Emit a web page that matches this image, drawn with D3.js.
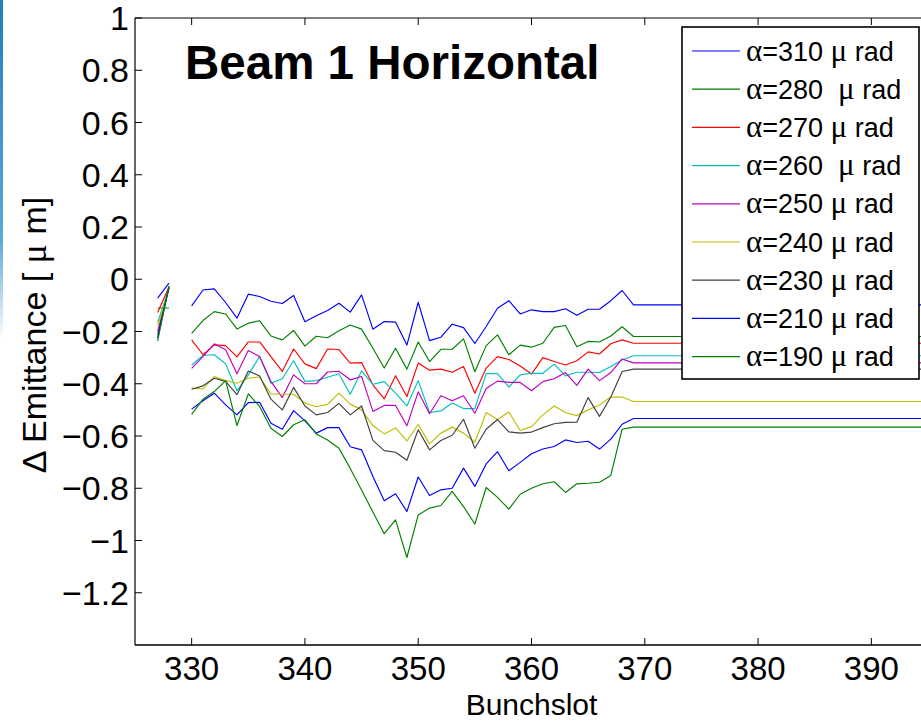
<!DOCTYPE html>
<html><head><meta charset="utf-8">
<script src="https://cdn.jsdelivr.net/npm/d3@7"></script>
<style>
html,body{margin:0;padding:0;background:#fff;}
svg{display:block;font-family:"Liberation Sans",Arial,Helvetica,sans-serif;}
</style>
</head><body>
<svg id="chart" width="921" height="721"></svg>
<script>
// ---------- DATA ----------
const bunchslots = [327,328,329,
  330,331,332,333,334,335,336,337,338,339,
  340,341,342,343,344,345,346,347,348,349,
  350,351,352,353,354,355,356,357,358,359,
  360,361,362,363,364,365,366,367,368,369,
  395];

const a310 = [-0.072,-0.015,null,
 -0.102,-0.041,-0.037,-0.089,-0.149,-0.057,-0.066,-0.084,-0.093,-0.062,
 -0.163,-0.140,-0.120,-0.092,-0.126,-0.060,-0.191,-0.162,-0.164,-0.252,
 -0.088,-0.235,-0.222,-0.172,-0.185,-0.246,-0.181,-0.111,-0.082,-0.133,
 -0.117,-0.124,-0.124,-0.113,-0.138,-0.115,-0.115,-0.082,-0.043,-0.098,
 -0.098];
const a280 = [-0.110,-0.110,null,
 -0.207,-0.158,-0.124,-0.133,-0.190,-0.168,-0.159,-0.217,-0.232,-0.196,
 -0.256,-0.218,-0.224,-0.197,-0.175,-0.191,-0.264,-0.340,-0.264,-0.344,
 -0.240,-0.315,-0.268,-0.268,-0.228,-0.354,-0.254,-0.213,-0.289,-0.252,
 -0.260,-0.245,-0.184,-0.177,-0.258,-0.238,-0.240,-0.217,-0.182,-0.219,
 -0.219];
const a270 = [-0.127,-0.030,null,
 -0.232,-0.289,-0.251,-0.254,-0.297,-0.240,-0.240,-0.296,-0.353,-0.267,
 -0.324,-0.342,-0.267,-0.269,-0.321,-0.319,-0.404,-0.458,-0.369,-0.449,
 -0.321,-0.348,-0.344,-0.356,-0.334,-0.436,-0.340,-0.296,-0.307,-0.332,
 -0.363,-0.300,-0.315,-0.328,-0.312,-0.278,-0.286,-0.247,-0.232,-0.245,
 -0.245];
const a260 = [-0.165,-0.035,null,
 -0.328,-0.292,-0.289,-0.324,-0.427,-0.366,-0.296,-0.398,-0.381,-0.312,
 -0.391,-0.388,-0.375,-0.362,-0.440,-0.351,-0.402,-0.392,-0.436,-0.485,
 -0.388,-0.510,-0.504,-0.474,-0.495,-0.495,-0.361,-0.361,-0.413,-0.366,
 -0.360,-0.360,-0.325,-0.370,-0.356,-0.356,-0.357,-0.334,-0.309,-0.293,
 -0.293];
const a250 = [-0.200,-0.035,null,
 -0.341,-0.296,-0.247,-0.270,-0.362,-0.273,-0.296,-0.391,-0.453,-0.366,
 -0.400,-0.400,-0.355,-0.352,-0.385,-0.372,-0.506,-0.483,-0.483,-0.561,
 -0.431,-0.515,-0.446,-0.465,-0.446,-0.513,-0.418,-0.390,-0.395,-0.395,
 -0.427,-0.392,-0.381,-0.357,-0.406,-0.344,-0.388,-0.357,-0.305,-0.320,
 -0.320];
const a240 = [-0.180,-0.035,null,
 -0.417,-0.420,-0.372,-0.388,-0.398,-0.379,-0.374,-0.439,-0.440,-0.440,
 -0.474,-0.488,-0.479,-0.436,-0.478,-0.500,-0.560,-0.592,-0.569,-0.619,
 -0.556,-0.630,-0.589,-0.566,-0.589,-0.624,-0.510,-0.537,-0.508,-0.579,
 -0.564,-0.519,-0.485,-0.510,-0.522,-0.500,-0.481,-0.451,-0.451,-0.468,
 -0.468];
const a230 = [-0.215,-0.030,null,
 -0.421,-0.408,-0.379,-0.391,-0.442,-0.351,-0.370,-0.459,-0.500,-0.414,
 -0.485,-0.519,-0.510,-0.475,-0.519,-0.485,-0.617,-0.656,-0.662,-0.693,
 -0.576,-0.653,-0.617,-0.597,-0.536,-0.647,-0.574,-0.537,-0.584,-0.589,
 -0.585,-0.568,-0.553,-0.548,-0.547,-0.453,-0.525,-0.451,-0.353,-0.344,
 -0.344];
const a210 = [-0.225,-0.030,null,
 -0.497,-0.465,-0.436,-0.481,-0.519,-0.472,-0.471,-0.551,-0.574,-0.503,
 -0.542,-0.589,-0.568,-0.568,-0.641,-0.653,-0.755,-0.848,-0.821,-0.889,
 -0.757,-0.828,-0.806,-0.800,-0.723,-0.793,-0.707,-0.660,-0.733,-0.701,
 -0.668,-0.650,-0.640,-0.615,-0.625,-0.620,-0.650,-0.612,-0.555,-0.533,
 -0.533];
const a190 = [-0.236,-0.025,null,
 -0.517,-0.459,-0.430,-0.388,-0.560,-0.439,-0.487,-0.570,-0.602,-0.557,
 -0.538,-0.592,-0.615,-0.647,-0.724,-0.807,-0.891,-0.974,-0.921,-1.065,
 -0.902,-0.876,-0.866,-0.812,-0.870,-0.937,-0.797,-0.835,-0.880,-0.823,
 -0.800,-0.783,-0.775,-0.816,-0.783,-0.781,-0.777,-0.751,-0.574,-0.566,
 -0.566];

const seriesLabels = ["α=310 μ rad","α=280  μ rad","α=270 μ rad","α=260  μ rad",
  "α=250 μ rad","α=240 μ rad","α=230 μ rad","α=210 μ rad","α=190 μ rad"];
const seriesValues = [a310,a280,a270,a260,a250,a240,a230,a210,a190];
const seriesColors = ["#0000ff","#008000","#ff0000","#00bfbf","#bf00bf","#bfbf00","#404040","#0000ff","#008000"];

const xTicks = [330,340,350,360,370,380,390];
const yTicks = [-1.2,-1,-0.8,-0.6,-0.4,-0.2,0,0.2,0.4,0.6,0.8,1];
const titleText = "Beam 1 Horizontal";
const xLabel = "Bunchslot";
const yLabel = "Δ Emittance [ μ m]";

// ---------- LAYOUT ----------
const svg = d3.select("#chart");
const L = 135, R = 928, T = 18, B = 645;
const x = d3.scaleLinear().domain([325, 395]).range([L, R]);
const y = d3.scaleLinear().domain([-1.4, 1]).range([B, T]);
const serif = "'Liberation Serif','Times New Roman',serif";

function richText(sel, str, greekScale) {
  let buf = "";
  const flush = () => { if (buf) { sel.append("tspan").text(buf); buf = ""; } };
  for (const ch of str) {
    if (ch === "α" || ch === "μ") {
      flush();
      sel.append("tspan").attr("font-family", serif).attr("font-size", greekScale).text(ch);
    } else buf += ch;
  }
  flush();
}

const defs = svg.append("defs");
const g0 = defs.append("linearGradient").attr("id","strip").attr("x1",0).attr("y1",0).attr("x2",0).attr("y2",1);
g0.append("stop").attr("offset","0%").attr("stop-color","#1f7fbf");
g0.append("stop").attr("offset","70%").attr("stop-color","#5aa8d8");
g0.append("stop").attr("offset","100%").attr("stop-color","#ffffff");
svg.append("rect").attr("x",0).attr("y",0).attr("width",3).attr("height",340).attr("fill","url(#strip)");

defs.append("clipPath").attr("id","plotclip").append("rect")
  .attr("x",L).attr("y",T).attr("width",R-L).attr("height",B-T);

const line = d3.line()
  .defined(d => d.v != null)
  .x(d => x(d.s))
  .y(d => y(d.v));

const plot = svg.append("g").attr("clip-path","url(#plotclip)");
seriesValues.forEach((vals, k) => {
  const pts = vals.map((v,i) => ({s: bunchslots[i], v: v}));
  plot.append("path").datum(pts)
    .attr("d", line)
    .attr("fill","none")
    .attr("stroke", seriesColors[k])
    .attr("stroke-width", 1.15)
    .attr("stroke-linejoin","round");
});

const axisG = svg.append("g");
const tickLen = 7;
axisG.append("line").attr("x1",L).attr("x2",R).attr("y1",B).attr("y2",B).attr("stroke","#000").attr("stroke-width",1.6);
axisG.append("line").attr("x1",L).attr("x2",R).attr("y1",T).attr("y2",T).attr("stroke","#000").attr("stroke-width",1.2);
axisG.append("line").attr("x1",L).attr("x2",L).attr("y1",T).attr("y2",B).attr("stroke","#000").attr("stroke-width",1.2);
axisG.append("line").attr("x1",R).attr("x2",R).attr("y1",T).attr("y2",B).attr("stroke","#000").attr("stroke-width",1.2);

xTicks.forEach(t => {
  axisG.append("line").attr("x1",x(t)).attr("x2",x(t)).attr("y1",B).attr("y2",B-tickLen).attr("stroke","#000").attr("stroke-width",1);
  axisG.append("line").attr("x1",x(t)).attr("x2",x(t)).attr("y1",T).attr("y2",T+tickLen).attr("stroke","#000").attr("stroke-width",1);
  axisG.append("text").attr("x",x(t)).attr("y",680).attr("text-anchor","middle")
    .attr("font-size",33).attr("fill","#000").text(d3.format("d")(t));
});
const yfmt = v => { const s = String(+v.toFixed(1)); return v < 0 ? "\u2212" + s.slice(1) : s; };
yTicks.forEach(t => {
  axisG.append("line").attr("x1",L).attr("x2",L+tickLen).attr("y1",y(t)).attr("y2",y(t)).attr("stroke","#000").attr("stroke-width",1);
  axisG.append("line").attr("x1",R).attr("x2",R-tickLen).attr("y1",y(t)).attr("y2",y(t)).attr("stroke","#000").attr("stroke-width",1);
  axisG.append("text").attr("x",L-6).attr("y",y(t)+12).attr("text-anchor","end")
    .attr("font-size",34).attr("fill","#000").text(yfmt(t));
});

svg.append("text").attr("x",(L+R)/2).attr("y",714.5).attr("text-anchor","middle")
  .attr("font-size",30).attr("fill","#000").text(xLabel);
const yl = svg.append("text").attr("transform","translate(46,335) rotate(-90)").attr("text-anchor","middle")
  .attr("font-size",34).attr("fill","#000").attr("xml:space","preserve").style("white-space","pre");
richText(yl, yLabel, 36);

svg.append("text").attr("x",185).attr("y",79).attr("font-size",47.5).attr("font-weight","bold")
  .attr("fill","#000").text(titleText);

const lg = svg.append("g");
lg.append("rect").attr("x",682).attr("y",27).attr("width",237).attr("height",352)
  .attr("fill","#fff").attr("stroke","#000").attr("stroke-width",1.6);
seriesLabels.forEach((lab, i) => {
  const cy = 51 + i*38.2;
  lg.append("line").attr("x1",692).attr("x2",740).attr("y1",cy).attr("y2",cy)
    .attr("stroke",seriesColors[i]).attr("stroke-width",1.2);
  const t = lg.append("text").attr("x",746).attr("y",cy+9.5).attr("font-size",27)
    .attr("fill","#000").style("white-space","pre").attr("xml:space","preserve");
  richText(t, lab, 31);
});
</script>
</body></html>
